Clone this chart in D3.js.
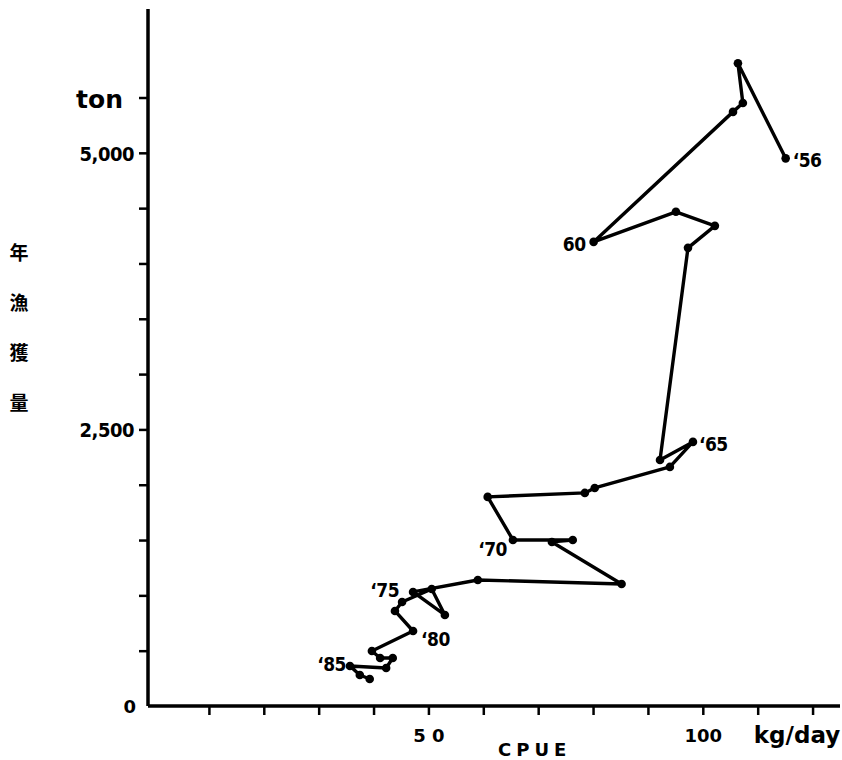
<!DOCTYPE html>
<html>
<head>
<meta charset="utf-8">
<script src="https://cdn.jsdelivr.net/npm/d3@7"></script>
<style>
  body { margin: 0; background: #fff; }
  text { font-family: "DejaVu Sans", sans-serif; font-weight: bold; fill: #000; }
</style>
</head>
<body>
<div id="chart"></div>
<script>
// year sequence 1956 - 1987
const years = [56, 57, 58, 59, 60, 61, 62, 63, 64, 65, 66, 67, 68, 69, 70, 71,
               72, 73, 74, 75, 76, 77, 78, 79, 80, 81, 82, 83, 84, 85, 86, 87];
// CPUE (kg/day)
const cpue = [115.1, 106.4, 107.3, 105.5, 80.1, 95.1, 102.2, 97.3, 92.2, 98.2, 94.0, 80.3,
              78.5, 60.8, 65.4, 76.3, 72.5, 85.2, 59.0, 47.2, 53.0, 50.6, 45.2, 43.9,
              47.2, 39.7, 41.2, 43.5, 42.3, 35.7, 37.5, 39.3];
// annual catch (ton)
const catchTon = [4950, 5810, 5450, 5370, 4195, 4467, 4340, 4141, 2224, 2387, 2161, 1971,
                  1926, 1890, 1501, 1501, 1483, 1103, 1139, 1031, 823, 1058, 940, 859,
                  678, 497, 434, 434, 344, 362, 280, 244];

const labelYears = [56, 60, 65, 70, 75, 80, 85];
const labelText = ["\u201856", "60", "\u201865", "\u201870", "\u201875", "\u201880", "\u201885"];

const xTicks = [10, 20, 30, 40, 50, 60, 70, 80, 90, 100, 110, 120];
const xTickLabels = { 50: "5 0", 100: "100" };
const yTicks = [500, 1000, 1500, 2000, 2500, 3000, 3500, 4000, 4500, 5000, 5500];
const yTickLabels = { 2500: "2,500", 5000: "5,000" };

const width = 842, height = 760;

const svg = d3.select("#chart").append("svg")
  .attr("width", width)
  .attr("height", height);

const x = d3.scaleLinear().domain([-1.1, 125]).range([148, 840]);
const y = d3.scaleLinear().domain([0, 6300]).range([706, 9]);

// axes
const xAxis = svg.append("g")
  .attr("transform", "translate(0," + y(0) + ")")
  .call(d3.axisBottom(x).tickValues(xTicks).tickSize(9).tickPadding(12)
    .tickFormat(d => xTickLabels[d] || ""));
xAxis.select(".domain").attr("d", "M" + x.range()[0] + ",0H" + x.range()[1]);

const yAxis = svg.append("g")
  .attr("transform", "translate(" + x(-1.1) + ",0)")
  .call(d3.axisLeft(y).tickValues(yTicks).tickSize(9).tickPadding(5)
    .tickFormat(d => yTickLabels[d] || ""));
yAxis.select(".domain").attr("d", "M0," + y.range()[1] + "V" + y.range()[0]);

svg.selectAll(".domain").attr("stroke", "#000").attr("stroke-width", 3.5);
svg.selectAll(".tick line").attr("stroke", "#000").attr("stroke-width", 2.5);
svg.selectAll(".tick text").style("font-weight", "bold")
  .style("font-family", "'DejaVu Sans', sans-serif");
xAxis.selectAll(".tick text").style("font-size", "18px").attr("dy", "0.85em");
yAxis.selectAll(".tick text")
  .style("font-family", "'DejaVu Sans Condensed', 'DejaVu Sans', sans-serif")
  .style("font-size", "20px").style("letter-spacing", "-0.5px").attr("dy", "0.36em");

// origin label
svg.append("text")
  .attr("x", 136).attr("y", y(0) + 7)
  .attr("text-anchor", "end")
  .style("font-size", "18px")
  .text("0");

// axis titles
svg.append("text").attr("x", 76).attr("y", 108).style("font-size", "25px").text("ton");
svg.append("text").attr("x", 797).attr("y", 743).attr("text-anchor", "middle")
  .style("font-size", "23px").text("kg/day");
svg.append("text").attr("x", 498).attr("y", 756)
  .style("font-size", "18px").style("letter-spacing", "5px").text("CPUE");

const yTitle = ["年", "漁", "獲", "量"];
svg.append("g").selectAll("text").data(yTitle).join("text")
  .attr("x", 19).attr("y", (d, i) => 260 + i * 50)
  .attr("text-anchor", "middle")
  .style("font-family", "'Noto Sans CJK JP', sans-serif")
  .style("font-weight", "bold")
  .style("font-size", "19px")
  .text(d => d);

// trajectory
const pts = years.map((yr, i) => ({ yr, c: cpue[i], t: catchTon[i] }));

const line = d3.line().x(d => x(d.c)).y(d => y(d.t));

svg.append("path")
  .datum(pts)
  .attr("fill", "none")
  .attr("stroke", "#000")
  .attr("stroke-width", 3.4)
  .attr("stroke-linejoin", "round")
  .attr("d", line);

svg.append("g").selectAll("circle").data(pts).join("circle")
  .attr("cx", d => x(d.c))
  .attr("cy", d => y(d.t))
  .attr("r", 4.3)
  .attr("fill", "#000");

// year labels
const offs = {
  56: [7, 9, "start"], 60: [-8, 9, "end"], 65: [6, 9, "start"], 70: [-6, 16, "end"],
  75: [-14, 5, "end"], 80: [8, 15, "start"], 85: [-4, 5, "end"]
};
svg.append("g").selectAll("text").data(labelYears).join("text")
  .attr("x", d => x(cpue[years.indexOf(d)]) + offs[d][0])
  .attr("y", d => y(catchTon[years.indexOf(d)]) + offs[d][1])
  .attr("text-anchor", d => offs[d][2])
  .style("font-family", "'DejaVu Sans Condensed', 'DejaVu Sans', sans-serif")
  .style("font-size", "19px")
  .style("letter-spacing", "-0.5px")
  .text((d, i) => labelText[i]);
</script>
</body>
</html>
